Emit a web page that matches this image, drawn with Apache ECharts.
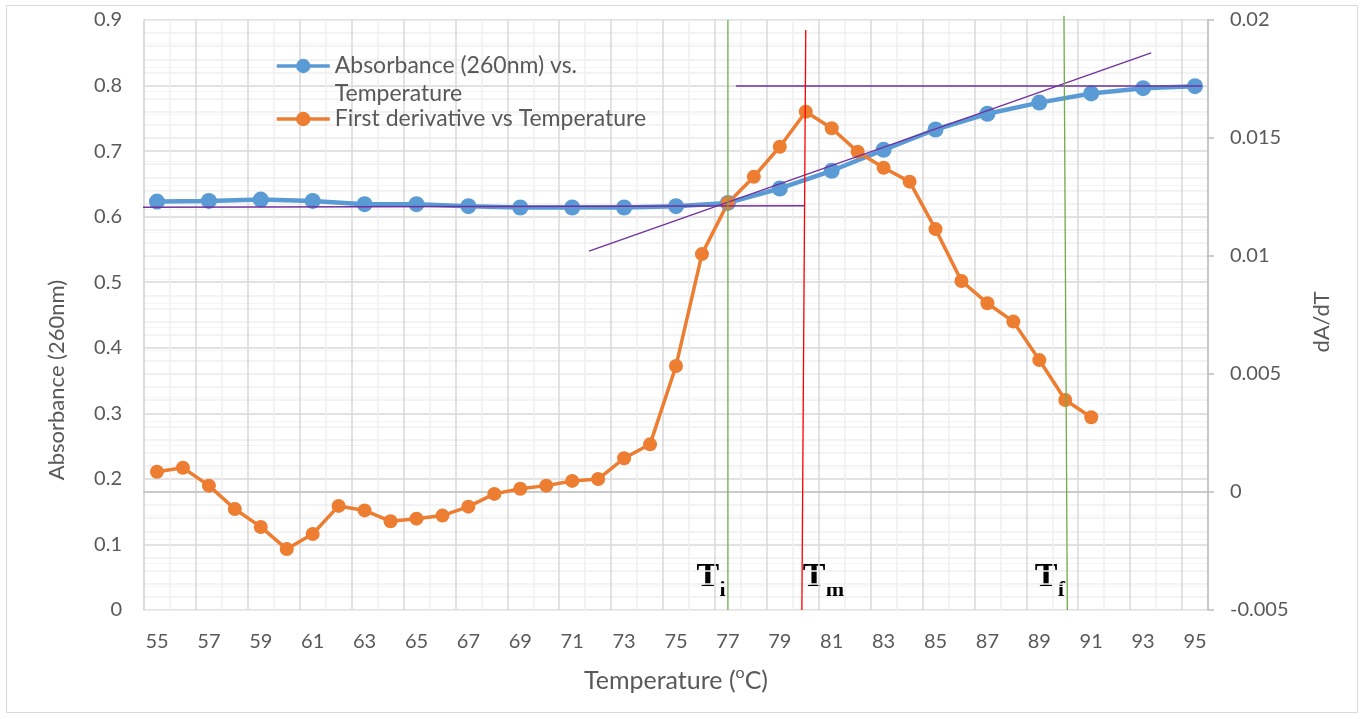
<!DOCTYPE html>
<html>
<head>
<meta charset="utf-8">
<script src="https://cdn.jsdelivr.net/npm/echarts@6/dist/echarts.min.js"></script>
<style>
html, body { margin: 0; padding: 0; background: #fff; }
#chart { width: 1365px; height: 719px; }
</style>
</head>
<body>
<div id="chart"></div>
<script>
// category ticks on the temperature axis
var tickLabels = ['55', '56', '57', '58', '59', '60', '61', '62', '63', '64', '65', '66', '67', '68',
    '69', '70', '71', '72', '73', '74', '75', '76', '77', '78', '79', '80', '81', '82', '83', '84',
    '85', '86', '87', '88', '89', '90', '91', '92', '93', '94', '95'];

// absorbance at 260nm, measured every 2 degrees
var absTemps = [55, 57, 59, 61, 63, 65, 67, 69, 71, 73, 75, 77, 79, 81, 83, 85, 87, 89, 91, 93, 95];
var absorbance = [0.623, 0.624, 0.626, 0.624, 0.619, 0.619, 0.616, 0.614, 0.614, 0.614, 0.616,
    0.621, 0.643, 0.670, 0.702, 0.733, 0.757, 0.774, 0.788, 0.796, 0.799];

// first derivative dA/dT
var derivTemps = [55, 56, 57, 58, 59, 60, 61, 62, 63, 64, 65, 66, 67, 68, 69, 70, 71, 72, 73, 74,
    75, 76, 77, 78, 79, 80, 81, 82, 83, 84, 85, 86, 87, 88, 89, 90, 91];
var derivative = [0.00086, 0.00103, 0.00027, -0.00072, -0.00148, -0.00242, -0.00178, -0.00059,
    -0.00078, -0.00124, -0.00113, -0.00100, -0.00062, -0.00008, 0.00014, 0.00027, 0.00047, 0.00055,
    0.00143, 0.00202, 0.00534, 0.01008, 0.01225, 0.01336, 0.01463, 0.01611, 0.01541, 0.01442,
    0.01374, 0.01315, 0.01114, 0.00894, 0.00800, 0.00722, 0.00559, 0.00390, 0.00317];

// hand drawn construction lines, [temperature, absorbance]
var baselineFit = [[54.15, 0.6143], [79.96, 0.6168]];
var plateauFit = [[77.31, 0.7993], [95.27, 0.7993]];
var slopeFit = [[71.65, 0.5476], [93.31, 0.8497]];
var tiLine = [[77.0, 0.9], [77.0, 0]];
var tmLine = [[80.0, 0.8847], [79.85, 0]];
var tfLine = [[89.95, 0.9066], [90.08, 0]];

var absName = 'Absorbance (260nm) vs. Temperature';
var derivName = 'First derivative vs Temperature';
var txt = '#595959';
var font = 'Lato';

function pairs(xs, ys) {
    return xs.map(function (x, i) { return [x, ys[i]]; });
}

function guide(data, color, width) {
    return {
        type: 'line', xAxisIndex: 2, yAxisIndex: 0, data: data,
        symbol: 'none', silent: true, clip: false, z: 5,
        lineStyle: { color: color, width: width }
    };
}

var graphics = [{
    id: 'frame', type: 'rect', shape: { x: 6.5, y: 5.5, width: 1351, height: 707 },
    style: { fill: 'none', stroke: '#d9d9d9', lineWidth: 1 }, z: -1, silent: true
}, {
    id: 'xname', type: 'text', x: 676, y: 681,
    style: {
        text: 'Temperature ({sup|o}C)', align: 'center', verticalAlign: 'middle',
        fill: txt, fontSize: 25, fontFamily: font,
        rich: { sup: { fontSize: 16, fill: txt, fontFamily: font, padding: [0, 0, 16, 0] } }
    }
}, {
    id: 'yname', type: 'text', x: 57, y: 380, rotation: Math.PI / 2,
    style: {
        text: 'Absorbance (260nm)', align: 'center', verticalAlign: 'middle',
        fill: txt, fontSize: 22, fontFamily: font
    }
}, {
    id: 'y2name', type: 'text', x: 1322, y: 322, rotation: Math.PI / 2,
    style: {
        text: 'dA/dT', align: 'center', verticalAlign: 'middle',
        fill: txt, fontSize: 22, fontFamily: font
    }
}];

var chart = echarts.init(document.getElementById('chart'));
chart.setOption({
    backgroundColor: '#fff',
    animation: false,
    textStyle: { fontFamily: font },
    grid: { left: 144, right: 157, top: 20, bottom: 109 },
    legend: {
        data: [absName, derivName],
        orient: 'vertical',
        left: 270, top: 19,
        itemWidth: 53, itemHeight: 18, itemGap: -3,
        lineStyle: { width: 3.5 },
        textStyle: { color: txt, fontSize: 23, lineHeight: 28, fontFamily: font },
        formatter: function (name) {
            return name === absName ? '\nAbsorbance (260nm) vs.\nTemperature' : name;
        }
    },
    xAxis: [{
        type: 'category', data: tickLabels, position: 'bottom',
        axisLine: { show: false }, axisTick: { show: false }, axisLabel: { show: false },
        splitLine: {
            show: true,
            interval: function (i) { return i % 2 === 1; },
            lineStyle: { color: '#efefef', width: 1.5 }
        }
    }, {
        type: 'category', data: tickLabels, position: 'bottom',
        axisLine: { lineStyle: { color: '#bfbfbf', width: 1.5 } },
        axisTick: { show: false },
        axisLabel: { interval: 1, color: txt, fontSize: 20, margin: 22, fontFamily: font },
        splitLine: { show: true, interval: 1, lineStyle: { color: '#d9d9d9', width: 1.5 } }
    }, {
        type: 'value', min: 54.5, max: 95.5, show: false
    }],
    yAxis: [{
        type: 'value', min: 0, max: 0.9, interval: 0.1,
        axisLine: { show: true, lineStyle: { color: '#d9d9d9', width: 1.5 } },
        axisTick: { show: false },
        axisLabel: { color: txt, fontSize: 20, margin: 22, fontFamily: font },
        splitLine: { lineStyle: { color: '#d9d9d9', width: 1.5 } },
        minorTick: { show: false, splitNumber: 5 },
        minorSplitLine: { show: true, lineStyle: { color: '#f0f0f0', width: 1.5 } }
    }, {
        type: 'value', min: -0.005, max: 0.02, interval: 0.005,
        axisLine: { show: true, lineStyle: { color: '#bfbfbf', width: 1.5 } },
        axisTick: { show: true, length: 6, lineStyle: { color: '#bfbfbf', width: 1.5 } },
        axisLabel: { color: txt, fontSize: 20, margin: 22, fontFamily: font },
        splitLine: { show: true, lineStyle: { color: '#ececec', width: 1 } },
        minorTick: { show: false, splitNumber: 5 },
        minorSplitLine: { show: true, lineStyle: { color: '#f5f5f5', width: 1 } }
    }],
    series: [{
        name: absName, type: 'line', xAxisIndex: 2, yAxisIndex: 0,
        data: pairs(absTemps, absorbance),
        symbol: 'circle', symbolSize: 16, z: 3,
        itemStyle: { color: '#5b9bd5' },
        lineStyle: { color: '#5b9bd5', width: 4.5 }
    }, {
        name: derivName, type: 'line', xAxisIndex: 2, yAxisIndex: 1,
        data: pairs(derivTemps, derivative),
        symbol: 'circle', symbolSize: 14, z: 3,
        itemStyle: { color: '#ed7d31' },
        lineStyle: { color: '#ed7d31', width: 3.5 }
    },
        guide(baselineFit, '#7030a0', 1.5),
        guide(plateauFit, '#7030a0', 1.5),
        guide(slopeFit, '#7030a0', 1.3),
        guide(tiLine, '#70ad47', 1.3),
        guide(tmLine, '#ff0000', 1.3),
        guide(tfLine, '#70ad47', 1.3)
    ],
    graphic: graphics
});

// T labels next to the transition lines
var tLabels = [
    { sub: 'i', at: [77.0, 0], side: 'left' },
    { sub: 'm', at: [79.85, 0], side: 'right' },
    { sub: 'f', at: [90.08, 0], side: 'left' }
];
var serif = 'Liberation Serif';
tLabels.forEach(function (l, k) {
    var p = chart.convertToPixel({ xAxisIndex: 2, yAxisIndex: 0 }, l.at);
    var tW = 22.5;
    var subW = l.sub === 'm' ? 18.5 : (l.sub === 'f' ? 8 : 7);
    var tx = l.side === 'left' ? p[0] - 2 - subW - tW : p[0] + 1;
    graphics.push({
        id: 'T' + k, type: 'text', x: tx, y: p[1] - 33, silent: true,
        style: { text: 'T', fill: '#000', fontSize: 34, fontWeight: 'bold', fontFamily: serif,
            align: 'left', verticalAlign: 'middle' }
    }, {
        id: 's' + k, type: 'text', x: tx + tW + 0.5, y: p[1] - 20, silent: true,
        style: { text: l.sub, fill: '#000', fontSize: 22, fontWeight: 'bold', fontFamily: serif,
            align: 'left', verticalAlign: 'middle' }
    });
});
chart.setOption({ graphic: graphics });
</script>
</body>
</html>
